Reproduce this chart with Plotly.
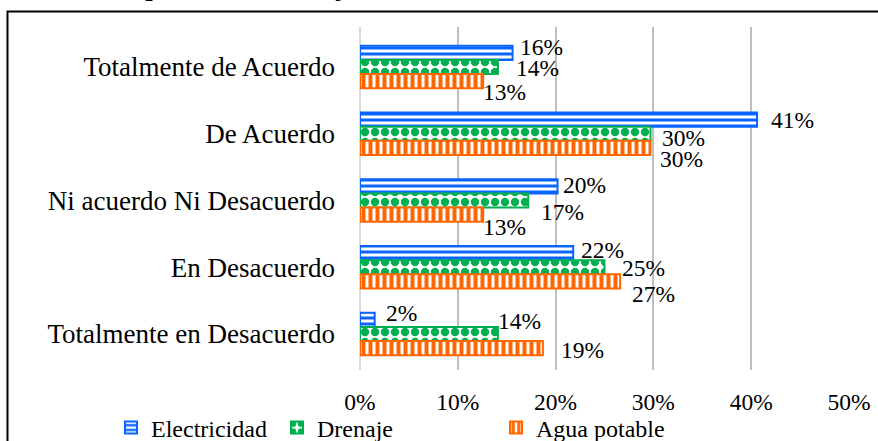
import plotly.graph_objects as go

categories = ["Totalmente de Acuerdo", "De Acuerdo", "Ni acuerdo Ni Desacuerdo",
              "En Desacuerdo", "Totalmente en Desacuerdo"]
electricidad = [15.6, 40.6, 20.2, 21.8, 1.5]
drenaje = [14.1, 29.7, 17.2, 25.0, 14.1]
agua_potable = [12.6, 29.7, 12.6, 26.6, 18.7]
x_ticks = [0, 10, 20, 30, 40, 50]
x_tick_labels = ["0%", "10%", "20%", "30%", "40%", "50%"]
title_text = "Apreciación de mejora en servicios básicos de la vivienda"

# label offsets (px): (xshift from bar end, yshift from category centre)
lbl_dx = {"Electricidad": [5, 12, 3, 6, 9],
          "Drenaje": [16, 10, 11, 15, -2],
          "Agua potable": [-2, 8, -2, 10, 16]}
lbl_dy = {"Electricidad": [20, 14, 16, 17, 21],
          "Drenaje": [-1, -4, -11, -1, 13],
          "Agua potable": [-25, -25, -26, -27, -16]}

FONT = "Liberation Serif, Times New Roman, serif"
L, R, T, B = 360, 29, 27, 71
W, H = 878, 441
PW, PH = W - L - R, H - T - B

def px_x(p):
    return (p - L) / PW

def px_y(p):
    return (H - B - p) / PH

series = [
    ("Electricidad", electricidad, "#0A64FF", "-", 6, 0.5, "legend"),
    ("Drenaje", drenaje, "#00B050", ".", 10, 0.55, "legend2"),
    ("Agua potable", agua_potable, "#FF6600", "|", 7, 0.57, "legend3"),
]

fig = go.Figure()
annotations = []
for name, vals, col, shape, size, sol, leg in series:
    fig.add_trace(go.Bar(
        y=categories, x=vals, orientation="h", name=name, legend=leg,
        marker=dict(color="white", line=dict(color=col, width=2),
                    pattern=dict(shape=shape, fgcolor=col, bgcolor="white",
                                 size=size, solidity=sol, fillmode="replace")),
        hoverinfo="skip",
    ))
    for i, v in enumerate(vals):
        annotations.append(dict(
            x=v, y=categories[i], xref="x", yref="y",
            text=f"{round(v)}%", showarrow=False,
            xanchor="left", yanchor="middle",
            xshift=lbl_dx[name][i], yshift=lbl_dy[name][i],
            font=dict(family=FONT, size=23.5, color="black"),
        ))

annotations.append(dict(
    x=px_x(448), y=px_y(3), xref="paper", yref="paper",
    text="<b>" + title_text + "</b>", showarrow=False,
    xanchor="center", yanchor="bottom",
    font=dict(family=FONT, size=26.5, color="black"),
))

leg_common = dict(orientation="h", yanchor="middle", xanchor="left",
                  xref="container", yref="container",
                  font=dict(family=FONT, size=24, color="black"),
                  bgcolor="rgba(0,0,0,0)", itemwidth=30,
                  itemclick=False, itemdoubleclick=False)
leg_y = 1 - 428 / H

fig.update_layout(
    width=W, height=H,
    margin=dict(l=L, r=R, t=T, b=B, pad=0, autoexpand=False),
    paper_bgcolor="white", plot_bgcolor="white",
    barmode="group", bargap=0.36, bargroupgap=0,
    font=dict(family=FONT, color="black"),
    showlegend=True,
    legend=dict(x=111 / W, y=leg_y, **leg_common),
    legend2=dict(x=277 / W, y=leg_y, **leg_common),
    legend3=dict(x=496 / W, y=leg_y, **leg_common),
    annotations=annotations,
    shapes=[dict(type="rect", xref="paper", yref="paper",
                 x0=px_x(7.5), x1=px_x(900), y0=px_y(11.5), y1=px_y(460),
                 line=dict(color="black", width=2), fillcolor="rgba(0,0,0,0)",
                 layer="above")],
    xaxis=dict(range=[0, 50], tickvals=x_ticks, ticktext=x_tick_labels,
               showgrid=True, gridcolor="#BFBFBF", gridwidth=2,
               zeroline=True, zerolinecolor="#D9D9D9", zerolinewidth=2,
               showline=False, ticks="", ticklabelstandoff=15,
               tickfont=dict(family=FONT, size=23.5, color="black"),
               automargin=False, fixedrange=True),
    yaxis=dict(autorange="reversed", type="category", showgrid=False,
               zeroline=False, showline=False, ticks="",
               ticklabelstandoff=24, automargin=False,
               tickfont=dict(family=FONT, size=27, color="black"),
               fixedrange=True),
)

fig.write_html("out.html", config={"displayModeBar": False},
               post_script="document.body.style.margin='0px';")
